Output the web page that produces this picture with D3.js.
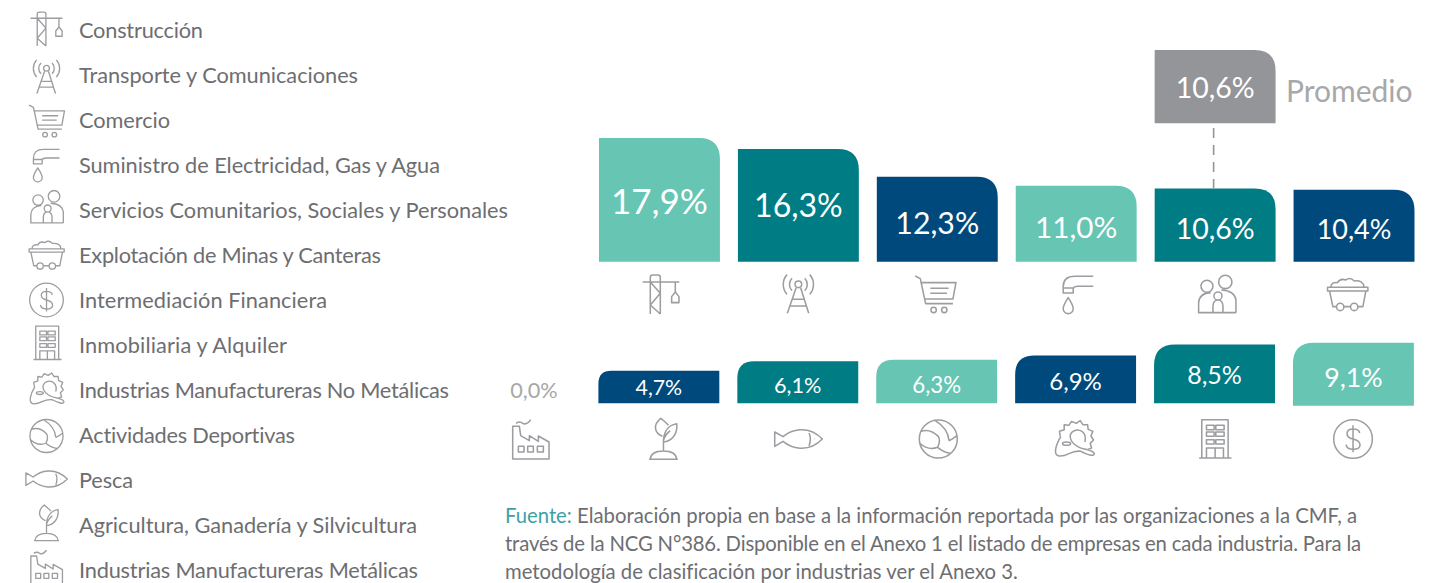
<!DOCTYPE html>
<html><head><meta charset="utf-8">
<script src="https://cdn.jsdelivr.net/npm/d3@7"></script>
<style>
html,body{margin:0;padding:0;background:#fff;overflow:hidden}
text{font-family:Lato,sans-serif;font-variant-ligatures:none;font-feature-settings:"liga" 0}
</style></head><body><svg id="c" width="1448" height="583"></svg>
<script>
const categories=["Construcción","Transporte y Comunicaciones","Comercio","Suministro de Electricidad, Gas y Agua","Servicios Comunitarios, Sociales y Personales","Explotación de Minas y Canteras","Intermediación Financiera","Inmobiliaria y Alquiler","Industrias Manufactureras No Metálicas","Actividades Deportivas","Pesca","Agricultura, Ganadería y Silvicultura","Industrias Manufactureras Metálicas"];
const values=[17.9,16.3,12.3,11.0,10.6,10.4,9.1,8.5,6.9,6.3,6.1,4.7,0.0];
const iconKeys=["crane","antenna","cart","faucet","family","mine","dollar","building","gear","ball","fish","plant","factory"];
const average=10.6;
const averageLabel="Promedio";
const palette=["#66c5b3","#007c85","#00497c"];
const sourceLines=[[["Fuente:",true],[" Elaboración propia en base a la información reportada por las organizaciones a la CMF, a",false]],[["través de la NCG N°386. Disponible en el Anexo 1 el listado de empresas en cada industria. Para la",false]],[["metodología de clasificación por industrias ver el Anexo 3.",false]]];

const fmt=v=>v.toFixed(1).replace(".",",")+"%";
const svg=d3.select("#c");
const GREY="#9c9da0",TXT="#6d6e71";

// glyphs, authored on a 120-unit box
const icons={
crane:{c:[213,493],d:"M181,552V442Q181,435 188,435H204Q211,435 211,442V552M158,456H268M181,456L211,490L181,525L211,552M256,456V486L245,500V518H267V500L256,486"},
antenna:{c:[625,495],d:"M625,465m-10,0a10,10 0 1 0 20,0a10,10 0 1 0 -20,0M618,476L592,552M632,476L656,552M609,510H641M600,530H650M606,447A26,26 0 0 0 606,484M644,447A26,26 0 0 1 644,484M591,436A44,44 0 0 0 591,495M659,436A44,44 0 0 1 659,495"},
cart:{c:[1035,493],d:"M975,438L990,446L1006,521H1088M990,458H1097L1088,507H1003M1020,475H1075M1020,490H1070M1030,540m-8,0a8,8 0 1 0 16,0a8,8 0 1 0 -16,0M1062,540m-8,0a8,8 0 1 0 16,0a8,8 0 1 0 -16,0"},
faucet:{c:[235,765],d:"M280,711H225Q190,711 190,742V761H220V750Q220,741 235,741H280M190,746H220M205,775Q190,798 190,808A15,15 0 0 0 220,808Q220,798 205,775Z"},
family:{c:[646,765],d:"M672,728m-20,0a20,20 0 1 0 40,0a20,20 0 1 0 -40,0M617,741m-18,0a18,18 0 1 0 36,0a18,18 0 1 0 -36,0M650,770m-12,0a12,12 0 1 0 24,0a12,12 0 1 0 -24,0M590,820H704M592,820V790Q594,762 628,760M704,820V782Q700,754 660,752M635,820V800Q636,782 650,782Q664,782 665,800V820"},
mine:{c:[1040,765],d:"M980,744H1101V755H980ZM986,755L996,802H1006M1095,755L1086,802H1072M1030,802H1048M1018,803m-11,0a11,11 0 1 0 22,0a11,11 0 1 0 -22,0M1060,803m-11,0a11,11 0 1 0 22,0a11,11 0 1 0 -22,0M990,744Q990,728 1010,730Q1018,716 1035,722Q1048,712 1060,725Q1088,722 1090,744"},
dollar:{c:[1120,313],d:"M1120,313m-58,0a58,58 0 1 0 116,0a58,58 0 1 0 -116,0M1140,295Q1138,283 1120,283Q1102,283 1102,297Q1102,309 1120,313Q1141,318 1141,331Q1141,344 1120,344Q1101,344 1099,330M1120,272V353"},
building:{c:[700,313],d:"M663,370V255H742V370M655,370H752M677,272H700V285H677ZM705,272H730V285H705ZM677,292H700V305H677ZM705,292H730V305H705ZM677,315H700V328H677ZM705,315H730V328H705ZM677,370V340H728V370M703,340V370"},
gear:{c:[280,313],d:"M238,305L236,290L250,285L250,270L264,272L272,260L286,266L298,258L306,270L320,270L322,284L336,290L330,304L338,316L328,326L332,340L320,345M240,305C225,330 215,362 235,364C262,366 270,345 300,350C320,360 340,368 340,356C335,345 310,345 295,338C268,325 258,300 280,288C302,280 318,298 312,322M245,327a12,5 0 1 0 24,0a12,5 0 1 0 -24,0"},
ball:{c:[1310,313],d:"M1310,313m-57,0a57,57 0 1 0 114,0a57,57 0 1 0 -114,0M1300,257C1325,272 1340,290 1342,318M1342,318C1350,315 1358,310 1366,303M1258,290C1275,284 1295,290 1310,305C1318,318 1312,330 1308,338C1290,345 1272,342 1254,325M1308,338C1322,350 1335,355 1347,356"},
fish:{c:[893,313],d:"M847,306C870,287 920,268 965,313C920,358 870,339 847,320L822,335V292ZM925,295Q933,313 925,333M942,313h1"},
plant:{c:[490,313],d:"M447,374H533M450,374C452,356 468,349 490,349C512,349 528,356 530,374M490,349V322C490,305 500,297 510,288M490,322C510,320 533,305 530,267C510,270 490,285 490,322M487,305C462,295 458,270 482,251C490,258 497,262 505,272"},
factory:{c:[92,313],d:"M38,373V275H58L62,303L88,318V303L115,320V304L147,322V373ZM55,335H72V352H55ZM83,335H100V352H83ZM112,335H130V352H112ZM48,266Q60,258 68,266Q80,272 92,255"}
};
function drawIcon(key,x,y,k){
  const ic=icons[key];
  svg.append("g").attr("transform",`translate(${x},${y}) scale(${k}) translate(${-ic.c[0]},${-ic.c[1]})`)
    .append("path").attr("d",ic.d).attr("fill","none").attr("stroke",GREY).attr("stroke-width",4.6).attr("stroke-linejoin","round");
}

// legend
const legY=d3.scalePoint().domain(categories).range([30,570]);
const legIconY=[29,77,121,165,207,255,300,343,389,436,479,523,567];
const legTextWidths=[124,279,91,361,429,302,248,208,370,216,54,338,339];
const legText=svg.append("g");
categories.forEach((c,i)=>{
  legText.append("text").attr("x",79).attr("y",legY(c)+7.6).attr("fill",TXT).attr("font-size",21.75)
    .attr("textLength",legTextWidths[i]).attr("lengthAdjust","spacing").text(c);
  drawIcon(iconKeys[i],46.5,legIconY[i],0.29);
});

// bars
const yH=d3.scaleLinear().domain([0,17.9]).range([0,123.7]);
const x=d3.scaleBand().domain(d3.range(6)).range([599,1414.5]).paddingInner(0.1295);
const font=d3.scaleLinear()
  .domain([0,4.7,6.1,6.3,6.9,8.5,9.1,10.4,10.6,11,12.3,16.3,17.9])
  .range([21.7,21.3,21.7,22.3,24,25,26.7,27,28.5,29.7,30.3,32,35]);
const labelNudge=d3.scaleThreshold().domain([5,6.5,9,10,14,17]).range([0.7,3,1.5,2.7,4,0.5,1.7]);
function barPath(x0,w,top,base,r,side){
  return side==="right"
   ?`M${x0},${base}V${top}H${x0+w-r}Q${x0+w},${top} ${x0+w},${top+r}V${base}Z`
   :`M${x0},${base}V${top+r}Q${x0},${top} ${x0+r},${top}H${x0+w}V${base}Z`;
}
function bar(slot,v,base,side,fill,dx){
  const h=yH(v),r=Math.min(21,h*0.4),w=x.bandwidth(),X=x(slot)+dx;
  svg.append("path").attr("d",barPath(X,w,base-h,base,r,side)).attr("fill",fill);
  const fs=font(v);
  svg.append("text").attr("x",X+w/2).attr("y",base-h/2+labelNudge(v)+fs*0.36).attr("text-anchor","middle").attr("fill","#fff").attr("font-size",fs).text(fmt(v));
}
const topBase=261.7,botBase=403.3;
const topNudge=[1.5,0,-2,2,1.5,-6.5],botNudge=[4,0,1,-2,-1,-1];
values.slice(0,6).forEach((v,i)=>{
  bar(i,v,topBase,"right",palette[i%3],0);
  drawIcon(iconKeys[i],x(i)+x.bandwidth()/2+topNudge[i],294.3,1/3);
});
const bottom=d3.range(6,13).reverse();
bottom.forEach((idx,j)=>{
  const v=values[idx];
  if(v===0){
    svg.append("text").attr("x",534).attr("y",397.5).attr("text-anchor","middle").attr("fill","#a7a8aa").attr("font-size",font(0)).text(fmt(v));
    drawIcon(iconKeys[idx],530.7,439,1/3);
    return;
  }
  const slot=j-1;
  bar(slot,v,idx===6?botBase+2.4:botBase,"left",palette[idx%3],-0.6);
  drawIcon(iconKeys[idx],x(slot)+x.bandwidth()/2+botNudge[slot],439,1/3);
});

// average
const avgSlot=4,avgX=x(avgSlot),avgCx=avgX+x.bandwidth()/2-1.5;
svg.append("path").attr("d",barPath(avgX,x.bandwidth(),123.3-yH(average),123.3,21,"right")).attr("fill","#939598");
svg.append("text").attr("x",avgX+x.bandwidth()/2).attr("y",98).attr("text-anchor","middle").attr("fill","#fff").attr("font-size",font(average)).text(fmt(average));
svg.append("line").attr("x1",avgCx).attr("x2",avgCx).attr("y1",128).attr("y2",188.3).attr("stroke","#939598").attr("stroke-width",1.6).attr("stroke-dasharray","10,7");
svg.append("text").attr("x",1286).attr("y",101.5).attr("fill","#a7a8aa").attr("font-size",30).text(averageLabel);

// source
sourceLines.forEach((ln,i)=>{
  const t=svg.append("text").attr("x",505).attr("y",523+i*28).attr("font-size",20.3).attr("fill",TXT).attr("letter-spacing",i===1?-0.16:0);
  ln.forEach(([s,acc])=>t.append("tspan").attr("fill",acc?"#3f9fa6":TXT).attr("xml:space","preserve").text(s));
});
</script></body></html>
